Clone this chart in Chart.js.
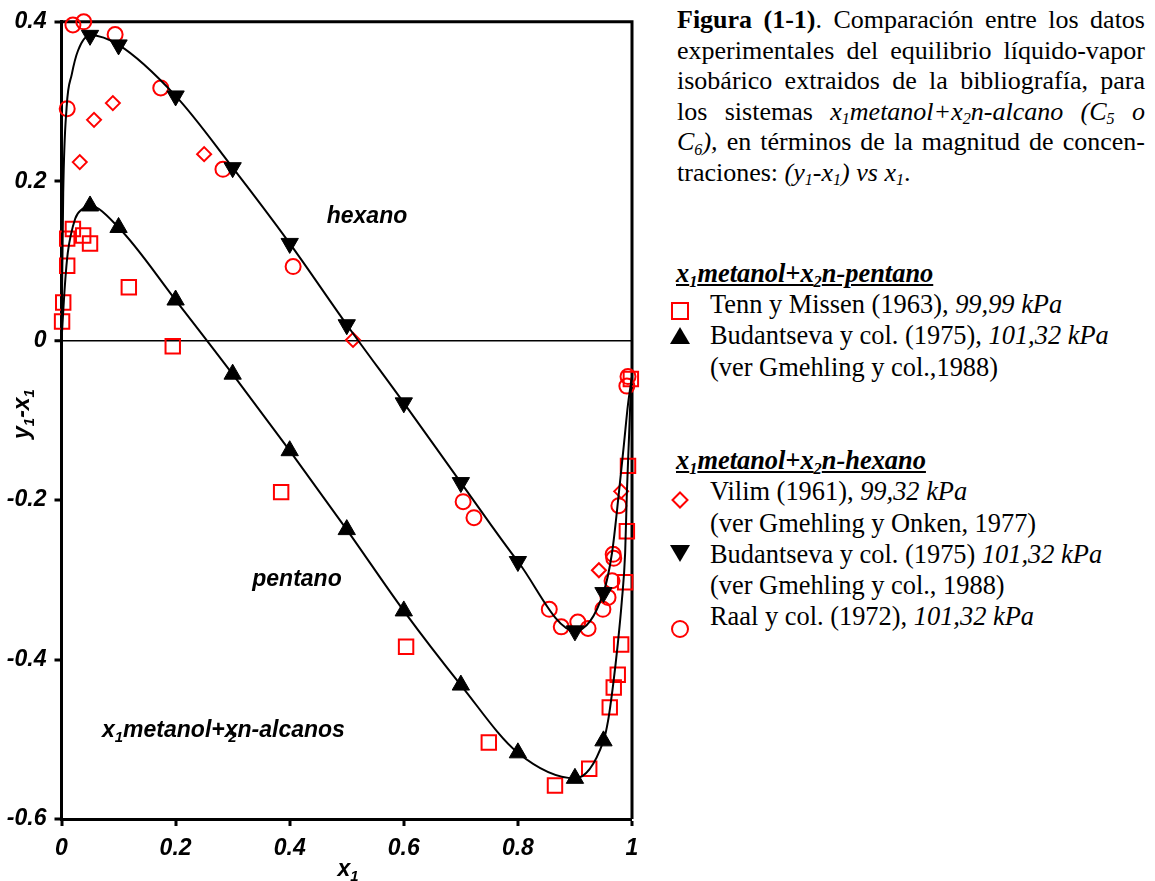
<!DOCTYPE html>
<html lang="es">
<head>
<meta charset="utf-8">
<title>Figura (1-1)</title>
<script src="https://cdn.jsdelivr.net/npm/chart.js@4.4.0/dist/chart.umd.min.js"></script>
<style>
  html, body { margin: 0; padding: 0; background: #fff; }
  #page { position: relative; width: 1155px; height: 881px; overflow: hidden; }
  #plot { position: absolute; left: 0; top: 0; }
  .serif { font-family: "Liberation Serif", "Times New Roman", serif; font-size: 26px; color: #000; }
  #caption { position: absolute; left: 677px; top: 5px; width: 468px; line-height: 30.5px; }
  #caption .j { text-align: justify; text-align-last: justify; white-space: nowrap; }
  #leyenda { position: absolute; left: 676px; top: 258px; width: 470px; line-height: 31.2px; font-size: 26.4px; }
  #leyenda .h { font-weight: bold; font-style: italic; text-decoration: underline; }
  #leyenda .e { padding-left: 34px; white-space: nowrap; }
  #leyenda .gap { height: 62.4px; }
  sub { font-size: 0.62em; vertical-align: baseline; position: relative; top: 0.28em; line-height: 0; }
  .mk { position: absolute; overflow: visible; }
</style>
</head>
<body>
<div id="page">
  <canvas id="plot" width="660" height="881"></canvas>

  <div id="caption" class="serif">
    <div class="j"><b>Figura (1-1)</b>. Comparación entre los datos</div>
    <div class="j">experimentales del equilibrio líquido-vapor</div>
    <div class="j">isobárico extraidos de la bibliografía, para</div>
    <div class="j">los sistemas <i>x<sub>1</sub>metanol+x<sub>2</sub>n-alcano (C<sub>5</sub> o</i></div>
    <div class="j"><i>C<sub>6</sub>),</i> en términos de la magnitud de concen-</div>
    <div>traciones: <i>(y<sub>1</sub>-x<sub>1</sub>) vs x<sub>1</sub></i>.</div>
  </div>

  <div id="leyenda" class="serif">
    <div class="h">x<sub>1</sub>metanol+x<sub>2</sub>n-pentano</div>
    <div class="e">Tenn y Missen (1963), <i>99,99 kPa</i></div>
    <div class="e">Budantseva y col. (1975), <i>101,32 kPa</i></div>
    <div class="e">(ver Gmehling y col.,1988)</div>
    <div class="gap"></div>
    <div class="h">x<sub>1</sub>metanol+x<sub>2</sub>n-hexano</div>
    <div class="e">Vilim (1961), <i>99,32 kPa</i></div>
    <div class="e">(ver Gmehling y Onken, 1977)</div>
    <div class="e">Budantseva y col. (1975) <i>101,32 kPa</i></div>
    <div class="e">(ver Gmehling y col., 1988)</div>
    <div class="e">Raal y col. (1972), <i>101,32 kPa</i></div>
  </div>

  <!-- legend symbols -->
  <svg class="mk" style="left:670px;top:301px" width="20" height="20"><rect x="2" y="2" width="16" height="16" fill="none" stroke="#f00" stroke-width="2"/></svg>
  <svg class="mk" style="left:669px;top:326px" width="22" height="20"><polygon points="11,1 21,18 1,18" fill="#000"/></svg>
  <svg class="mk" style="left:671px;top:491px" width="18" height="18"><polygon points="9,1.5 16.5,9 9,16.5 1.5,9" fill="none" stroke="#f00" stroke-width="2"/></svg>
  <svg class="mk" style="left:669px;top:543px" width="22" height="20"><polygon points="1,2 21,2 11,19" fill="#000"/></svg>
  <svg class="mk" style="left:670px;top:619px" width="20" height="20"><circle cx="10" cy="10" r="8" fill="none" stroke="#f00" stroke-width="2"/></svg>
</div>

<script>
// axis ticks
const xTicks = [0, 0.2, 0.4, 0.6, 0.8, 1];
const xTickLabels = ['0', '0.2', '0.4', '0.6', '0.8', '1'];
const yTicks = [-0.6, -0.4, -0.2, 0, 0.2, 0.4];
const yTickLabels = ['-0.6', '-0.4', '-0.2', '0', '0.2', '0.4'];

// fitted curves, [x1, y1-x1]
const curvaPentano = [
  [0, 0], [0.006, 0.070], [0.011, 0.110], [0.024, 0.153], [0.036, 0.165],
  [0.05, 0.169], [0.1, 0.142], [0.2, 0.051], [0.3, -0.042], [0.4, -0.138],
  [0.5, -0.237], [0.6, -0.339], [0.7, -0.432], [0.8, -0.517], [0.9, -0.549],
  [0.95, -0.502], [0.958, -0.477], [0.967, -0.431], [0.975, -0.381],
  [0.982, -0.328], [0.988, -0.266], [0.991, -0.191], [0.995, -0.117],
  [0.998, -0.061], [1, -0.045]
];
const curvaHexano = [
  [0, 0], [0.003, 0.185], [0.009, 0.293], [0.018, 0.334], [0.029, 0.364],
  [0.05, 0.383], [0.1, 0.371], [0.2, 0.307], [0.3, 0.217], [0.4, 0.122],
  [0.5, 0.020], [0.6, -0.078], [0.7, -0.178], [0.8, -0.277], [0.9, -0.364],
  [0.95, -0.316], [0.965, -0.266], [0.977, -0.191], [0.986, -0.129],
  [0.993, -0.080], [1, -0.045]
];

// experimental data
const tennMissen = [
  [0.001, 0.024], [0.003, 0.048], [0.010, 0.094], [0.010, 0.128], [0.020, 0.140],
  [0.038, 0.132], [0.050, 0.122], [0.118, 0.067], [0.195, -0.007], [0.385, -0.190],
  [0.604, -0.384], [0.749, -0.504], [0.865, -0.558], [0.925, -0.537], [0.961, -0.460],
  [0.968, -0.435], [0.975, -0.419], [0.981, -0.381], [0.988, -0.303], [0.991, -0.239],
  [0.993, -0.157], [0.998, -0.048]
];
const budantsevaPentano = [
  [0.05, 0.169], [0.1, 0.142], [0.2, 0.051], [0.3, -0.042], [0.4, -0.138],
  [0.5, -0.237], [0.6, -0.339], [0.7, -0.432], [0.8, -0.517], [0.9, -0.549],
  [0.95, -0.502]
];
const vilim = [
  [0.032, 0.224], [0.057, 0.277], [0.090, 0.298], [0.250, 0.234], [0.511, 0.001],
  [0.942, -0.288], [0.981, -0.189]
];
const budantsevaHexano = [
  [0.05, 0.383], [0.1, 0.371], [0.2, 0.307], [0.3, 0.217], [0.4, 0.122],
  [0.5, 0.020], [0.6, -0.078], [0.7, -0.178], [0.8, -0.277], [0.9, -0.364],
  [0.95, -0.316]
];
const raal = [
  [0.010, 0.291], [0.020, 0.396], [0.039, 0.400], [0.094, 0.384], [0.174, 0.317],
  [0.283, 0.215], [0.406, 0.093], [0.704, -0.202], [0.723, -0.222], [0.855, -0.337],
  [0.876, -0.359], [0.905, -0.353], [0.923, -0.361], [0.949, -0.337], [0.958, -0.322],
  [0.965, -0.301], [0.967, -0.268], [0.968, -0.273], [0.977, -0.207], [0.991, -0.057],
  [0.993, -0.045]
];

const pts = (arr) => arr.map(([x, y]) => ({ x, y }));
const RED = '#ff0000';
const axisFont = { family: '"Liberation Sans", Arial, sans-serif', size: 23, style: 'italic', weight: 'bold' };
const richFont = (size) => `italic bold ${size}px "Liberation Sans", Arial, sans-serif`;

// draws text with subscripts; kind 'sub' advances, 'under' sits below previous glyph
function drawRich(ctx, parts, x, y, size, align) {
  const sub = size * 0.65;
  let total = 0;
  parts.forEach(([t, kind]) => {
    if (kind === 'under') return;
    ctx.font = richFont(kind === 'sub' ? sub : size);
    total += ctx.measureText(t).width;
  });
  let cx = align === 'center' ? x - total / 2 : x;
  ctx.textAlign = 'left';
  ctx.textBaseline = 'alphabetic';
  ctx.fillStyle = '#000';
  parts.forEach(([t, kind]) => {
    if (kind === 'sub' || kind === 'under') {
      ctx.font = richFont(sub);
      const w = ctx.measureText(t).width;
      const px = kind === 'under' ? cx - w - 1 : cx;
      ctx.fillText(t, px, y + size * 0.22);
      if (kind === 'sub') cx += w;
    } else {
      ctx.font = richFont(size);
      ctx.fillText(t, cx, y);
      cx += ctx.measureText(t).width;
    }
  });
}

const framePlugin = {
  id: 'frame',
  beforeDatasetsDraw(chart) {
    const { ctx, chartArea: a } = chart;
    ctx.save();
    ctx.strokeStyle = '#000';
    ctx.lineWidth = 3;
    ctx.beginPath();
    ctx.moveTo(a.left, a.top);
    ctx.lineTo(a.right, a.top);
    ctx.lineTo(a.right, a.bottom);
    ctx.stroke();
    ctx.restore();
  }
};

const textPlugin = {
  id: 'rotulos',
  afterDraw(chart) {
    const ctx = chart.ctx;
    ctx.save();
    drawRich(ctx, [['hexano']], 367, 223, 23, 'center');
    drawRich(ctx, [['pentano']], 297, 586, 23, 'center');
    drawRich(ctx, [['x'], ['1', 'sub'], ['metanol+x'], ['2', 'under'], ['n-alcanos']], 102, 737, 23, 'left');
    // axis titles
    drawRich(ctx, [['x'], ['1', 'sub']], 348, 876, 23, 'center');
    ctx.translate(29, 414);
    ctx.rotate(-Math.PI / 2);
    drawRich(ctx, [['y'], ['1', 'sub'], ['-x'], ['1', 'sub']], 0, 0, 23, 'center');
    ctx.restore();
  }
};

const curveStyle = {
  showLine: true,
  borderColor: '#000',
  borderWidth: 2,
  pointRadius: 0,
  cubicInterpolationMode: 'monotone',
  fill: false
};

new Chart(document.getElementById('plot'), {
  type: 'scatter',
  data: {
    datasets: [
      { label: 'pentano', data: pts(curvaPentano), ...curveStyle },
      { label: 'hexano', data: pts(curvaHexano), ...curveStyle },
      {
        label: 'Budantseva y col. (1975) pentano', data: pts(budantsevaPentano),
        pointStyle: 'triangle', pointRadius: 10, backgroundColor: '#000', borderColor: '#000', borderWidth: 1
      },
      {
        label: 'Budantseva y col. (1975) hexano', data: pts(budantsevaHexano),
        pointStyle: 'triangle', rotation: 180, pointRadius: 10, backgroundColor: '#000', borderColor: '#000', borderWidth: 1
      },
      {
        label: 'Tenn y Missen (1963)', data: pts(tennMissen),
        pointStyle: 'rect', pointRadius: 10.2, backgroundColor: 'transparent', borderColor: RED, borderWidth: 2
      },
      {
        label: 'Vilim (1961)', data: pts(vilim),
        pointStyle: 'rectRot', pointRadius: 7, backgroundColor: 'transparent', borderColor: RED, borderWidth: 2
      },
      {
        label: 'Raal y col. (1972)', data: pts(raal),
        pointStyle: 'circle', pointRadius: 7.5, backgroundColor: 'transparent', borderColor: RED, borderWidth: 2
      }
    ]
  },
  options: {
    responsive: false,
    animation: false,
    clip: false,
    layout: { padding: { top: 14, right: 28, left: 0, bottom: 0 } },
    plugins: {
      legend: { display: false },
      tooltip: { enabled: false }
    },
    scales: {
      x: {
        type: 'linear',
        min: 0,
        max: 1,
        afterBuildTicks: (scale) => { scale.ticks = xTicks.map((v) => ({ value: v })); },
        afterFit: (scale) => { scale.height = 62; },
        ticks: {
          callback: (value, index) => xTickLabels[index],
          font: axisFont,
          color: '#000',
          padding: 9,
          maxRotation: 0,
          autoSkip: false
        },
        grid: { color: 'transparent', lineWidth: 0, drawTicks: true, tickLength: 7, tickWidth: 3, tickColor: '#000' },
        border: { display: true, color: '#000', width: 3 }
      },
      y: {
        type: 'linear',
        min: -0.6,
        max: 0.4,
        afterBuildTicks: (scale) => { scale.ticks = yTicks.map((v) => ({ value: v })); },
        afterFit: (scale) => { scale.width = 61.5; },
        ticks: {
          callback: (value, index) => yTickLabels[index],
          font: axisFont,
          color: '#000',
          padding: 8,
          autoSkip: false
        },
        grid: {
          color: (c) => (c.tick && c.tick.value === 0 ? '#000' : 'transparent'),
          lineWidth: (c) => (c.tick && c.tick.value === 0 ? 1.5 : 0),
          drawTicks: true,
          tickLength: 7,
          tickWidth: 3,
          tickColor: '#000'
        },
        border: { display: true, color: '#000', width: 3 }
      }
    }
  },
  plugins: [framePlugin, textPlugin]
});
</script>
</body>
</html>
